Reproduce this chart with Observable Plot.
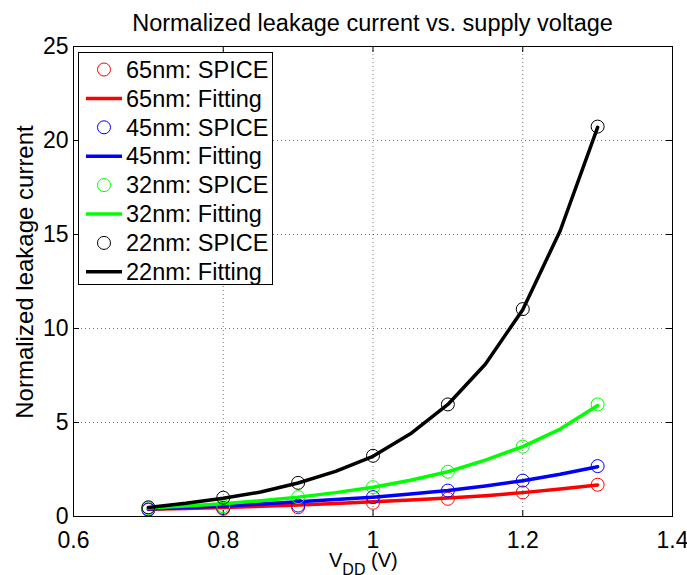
<!DOCTYPE html>
<html>
<head>
<meta charset="utf-8">
<script src="https://cdn.jsdelivr.net/npm/d3@7"></script>
<script src="https://cdn.jsdelivr.net/npm/@observablehq/plot@0.6"></script>
<style>
  html, body { margin: 0; padding: 0; background: #fff; }
  #chart svg { display: block; }
</style>
</head>
<body>
<div id="chart"></div>
<script>
// ---- data ----
const vddSpice = [0.7, 0.8, 0.9, 1.0, 1.1, 1.2, 1.3];
const spice65 = [0.35, 0.41, 0.49, 0.73, 0.94, 1.28, 1.69];
const spice45 = [0.38, 0.46, 0.58, 1.03, 1.38, 1.91, 2.68];
const spice32 = [0.45, 0.55, 1.03, 1.56, 2.38, 3.72, 5.96];
const spice22 = [0.49, 1.0, 1.79, 3.23, 5.96, 11.03, 20.74];

const vddFit = [0.7, 0.75, 0.8, 0.85, 0.9, 0.95, 1.0, 1.05, 1.1, 1.15, 1.2, 1.25, 1.3];
const fit65 = [0.38, 0.43, 0.48, 0.54, 0.61, 0.69, 0.78, 0.88, 0.98, 1.11, 1.27, 1.46, 1.68];
const fit45 = [0.40, 0.48, 0.56, 0.66, 0.78, 0.90, 1.03, 1.20, 1.38, 1.62, 1.90, 2.25, 2.65];
const fit32 = [0.45, 0.56, 0.68, 0.84, 1.03, 1.27, 1.56, 1.93, 2.38, 3.00, 3.72, 4.65, 5.90];
const fit22 = [0.48, 0.70, 0.97, 1.30, 1.78, 2.40, 3.20, 4.40, 5.96, 8.10, 11.0, 15.2, 20.7];

const seriesNames = ["65nm", "45nm", "32nm", "22nm"];
const seriesColors = ["#ff0000", "#0000ff", "#00ff00", "#000000"];
const spiceSets = [spice65, spice45, spice32, spice22];
const fitSets = [fit65, fit45, fit32, fit22];

const xTicks = [0.6, 0.8, 1.0, 1.2, 1.4];
const yTicks = [0, 5, 10, 15, 20, 25];
const legendLabels = ["65nm: SPICE", "65nm: Fitting", "45nm: SPICE", "45nm: Fitting",
                      "32nm: SPICE", "32nm: Fitting", "22nm: SPICE", "22nm: Fitting"];
const titleText = "Normalized leakage current vs. supply voltage";
const yLabelText = "Normalized leakage current";

// ---- layout ----
const W = 687, H = 575;
const mL = 73, mR = 15, mT = 46, mB = 59;
const plotW = W - mL - mR, plotH = H - mT - mB;
const FONT = "'Liberation Sans', Arial, Helvetica, sans-serif";
const tickLen = 6;

const fmt = d3.format("~g");

const marks = [
  Plot.gridX(xTicks.slice(1, -1), {stroke: "#000", strokeOpacity: 0.55, strokeDasharray: "1,3"}),
  Plot.gridY(yTicks.slice(1, -1), {stroke: "#000", strokeOpacity: 0.55, strokeDasharray: "1,3"}),
  // inward ticks
  Plot.tickX(xTicks, {x: d => d, insetTop: plotH - tickLen, stroke: "#000"}),
  Plot.tickX(xTicks, {x: d => d, insetBottom: plotH - tickLen, stroke: "#000"}),
  Plot.tickY(yTicks, {y: d => d, insetRight: plotW - tickLen, stroke: "#000"}),
  Plot.tickY(yTicks, {y: d => d, insetLeft: plotW - tickLen, stroke: "#000"}),
  // tick labels
  Plot.text(xTicks, {x: d => d, text: d => fmt(d), frameAnchor: "bottom", dy: 24,
                     lineAnchor: "middle", fontSize: 23, fill: "#000"}),
  Plot.text(yTicks, {y: d => d, text: d => fmt(d), frameAnchor: "left", dx: -5,
                     textAnchor: "end", lineAnchor: "middle", fontSize: 23, fill: "#000"})
];

seriesNames.forEach((name, i) => {
  const sp = vddSpice.map((v, j) => ({v, y: spiceSets[i][j]}));
  const ft = vddFit.map((v, j) => ({v, y: fitSets[i][j]}));
  marks.push(Plot.dot(sp, {x: "v", y: "y", r: 6.5, stroke: seriesColors[i], strokeWidth: 1, fill: "none"}));
  marks.push(Plot.line(ft, {x: "v", y: "y", stroke: seriesColors[i], strokeWidth: 3.5}));
});
marks.push(Plot.frame({stroke: "#000", strokeWidth: 1}));

const chart = Plot.plot({
  width: W, height: H,
  marginLeft: mL, marginRight: mR, marginTop: mT, marginBottom: mB,
  style: {fontFamily: FONT, background: "#fff", overflow: "visible"},
  x: {domain: [0.6, 1.4], axis: null},
  y: {domain: [0, 25], axis: null},
  marks
});
document.getElementById("chart").appendChild(chart);

// ---- title, axis labels, legend (decorations) ----
const svg = d3.select(chart);
const cx = mL + plotW / 2;
svg.append("text").attr("x", cx).attr("y", 31).attr("text-anchor", "middle")
  .attr("font-size", 23.5).attr("font-family", FONT).attr("fill", "#000").text(titleText);

svg.append("text").attr("transform", `translate(33,272) rotate(-90)`).attr("text-anchor", "middle")
  .attr("font-size", 24).attr("font-family", FONT).attr("fill", "#000").text(yLabelText);

const xl = svg.append("text").attr("x", 329).attr("y", 567).attr("text-anchor", "start")
  .attr("font-size", 20).attr("font-family", FONT).attr("fill", "#000");
xl.append("tspan").text("V");
xl.append("tspan").attr("font-size", 16).attr("dy", 8).text("DD");
xl.append("tspan").attr("dy", -8).text(" (V)");

const lg = svg.append("g");
lg.append("rect").attr("x", 78.5).attr("y", 52.5).attr("width", 194).attr("height", 232)
  .attr("fill", "#fff").attr("stroke", "#000").attr("stroke-width", 1);
legendLabels.forEach((lab, k) => {
  const i = Math.floor(k / 2);
  const yy = 69.5 + k * 28.9;
  if (k % 2 === 0) {
    lg.append("circle").attr("cx", 104).attr("cy", yy).attr("r", 6.5)
      .attr("fill", "none").attr("stroke", seriesColors[i]).attr("stroke-width", 1);
  } else {
    lg.append("line").attr("x1", 86).attr("x2", 122).attr("y1", yy).attr("y2", yy)
      .attr("stroke", seriesColors[i]).attr("stroke-width", 3.5);
  }
  lg.append("text").attr("x", 126).attr("y", yy).attr("dy", "0.35em").attr("text-anchor", "start")
    .attr("font-size", 23.5).attr("font-family", FONT).attr("fill", "#000").text(lab);
});
</script>
</body>
</html>
